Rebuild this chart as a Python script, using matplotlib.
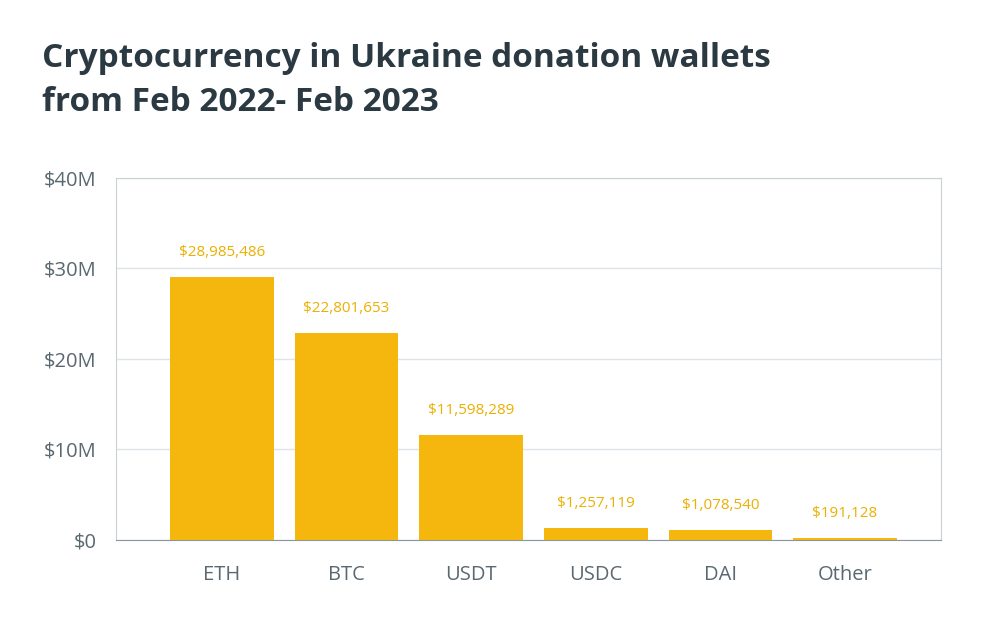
import matplotlib.pyplot as plt
from matplotlib.ticker import FuncFormatter

coins = ['ETH', 'BTC', 'USDT', 'USDC', 'DAI', 'Other']
amounts = [28985486, 22801653, 11598289, 1257119, 1078540, 191128]

bar_color = '#F5B70D'
text_dark = '#2B3A42'
tick_grey = '#5A6870'

plt.rcParams['font.family'] = 'Open Sans'

fig = plt.figure(figsize=(10, 6.19), dpi=100)
ax = fig.add_axes([0.116, 0.128, 0.825, 0.585])

x = range(len(coins))
ax.bar(x, amounts, width=0.83, color=bar_color, zorder=3)
for xi, v in zip(x, amounts):
    ax.text(xi, v + 1.9e6, f'${v:,}', ha='center', va='bottom',
            color='#EBB000', fontsize=11)

ax.set_xlim(-0.85, 5.77)
ax.set_ylim(0, 40e6)
ax.set_yticks([0, 10e6, 20e6, 30e6, 40e6])
ax.yaxis.set_major_formatter(
    FuncFormatter(lambda v, p: '$0' if v == 0 else f'${v/1e6:.0f}M'))
ax.set_xticks(list(x))
ax.set_xticklabels(coins)
ax.tick_params(length=0, labelsize=14.5, colors=tick_grey)
ax.tick_params(axis='x', pad=18)
ax.tick_params(axis='y', pad=14)
ax.grid(axis='y', color='#DDE3E6', linewidth=1, zorder=0)
for s in ax.spines.values():
    s.set_color('#C9D1D5')
ax.spines['bottom'].set_color('#8A969C')

fig.text(0.042, 0.906, 'Cryptocurrency in Ukraine donation wallets',
         fontsize=24, fontweight='bold', color=text_dark, va='center')
fig.text(0.042, 0.835, 'from Feb 2022- Feb 2023',
         fontsize=24, fontweight='bold', color=text_dark, va='center')

fig.savefig('out.png', dpi=100)
